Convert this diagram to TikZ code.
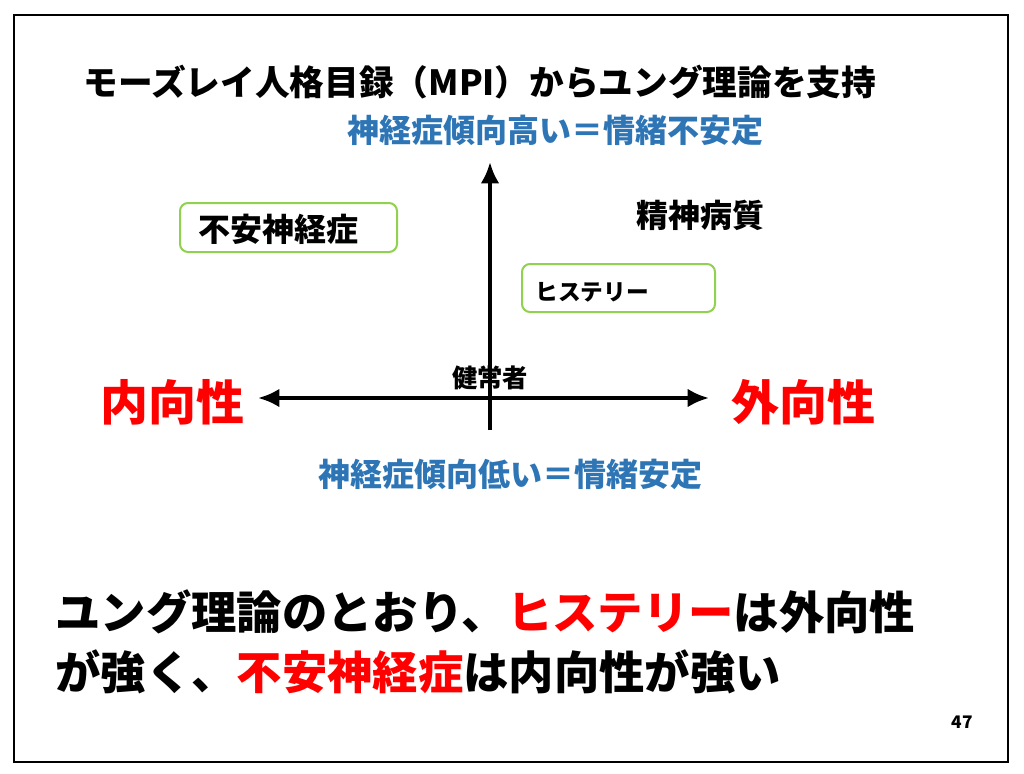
\documentclass[tikz,border=0pt]{standalone}
\usepackage{fontspec}
\setmainfont{Noto Sans CJK JP}
\tikzset{every picture/.style={line width=0.75pt}}
\tikzset{
  jtext/.style={font=\bfseries\fontsize{#1}{#1}\selectfont, inner sep=0pt},
  catbox/.style={draw={rgb,255:red,146;green,208;blue,80}, line width=1.5pt, rounded corners=6pt},
  axis/.style={line width=3pt, -{Latex[length=16pt,width=14pt]}},
}
\usetikzlibrary{arrows.meta}
\definecolor{axisblue}{RGB}{46,117,182}
\definecolor{hired}{RGB}{255,0,0}
\begin{document}
\begin{tikzpicture}[x=0.75pt,y=0.75pt,yscale=-1,xscale=1]
\useasboundingbox (0,0) rectangle (1024,774);
%Frame
\draw [line width=1.5pt] (14,15) rectangle (1008,762);

%Title
\node [jtext=26] (title) at (480,82) {モーズレイ人格目録（MPI）からユング理論を支持};
\node [jtext=24] [text=axisblue] (high) at (555,130) {神経症傾向高い＝情緒不安定};
\node [jtext=24] [text=axisblue] (low) at (510,474) {神経症傾向低い＝情緒安定};

%Axes
\coordinate (vbot) at (490,430);
\coordinate (vtop) at (490,162);
\coordinate (hleft) at (258,398);
\coordinate (hright) at (709,398);
\draw [axis] (vbot) -- (vtop);
\draw [axis, {Latex[length=16pt,width=14pt]}-{Latex[length=16pt,width=14pt]}] (hleft) -- (hright);

\node [jtext=36, text=hired] (intro) at (172,402) {内向性};
\node [jtext=36, text=hired] (extra) at (803,402) {外向性};
\node [jtext=19] (healthy) at (490,378) {健常者};

%Boxes
\draw [catbox] (180,203) rectangle (397,252);
\node [jtext=24] (anx) at (278,229) {不安神経症};
\draw [catbox] (522,264) rectangle (715,312);
\node [jtext=17] (hys) at (592,292) {ヒステリー};
\node [jtext=24] (psy) at (700,215) {精神病質};

%Conclusion
\node [jtext=34, anchor=west] (line1) at (55,612) {ユング理論のとおり、\textcolor{hired}{ヒステリー}は外向性};
\node [jtext=34, anchor=west] (line2) at (55,672) {が強く、\textcolor{hired}{不安神経症}は内向性が強い};
\node [jtext=13] (page) at (962,722) {47};
\end{tikzpicture}
\end{document}
